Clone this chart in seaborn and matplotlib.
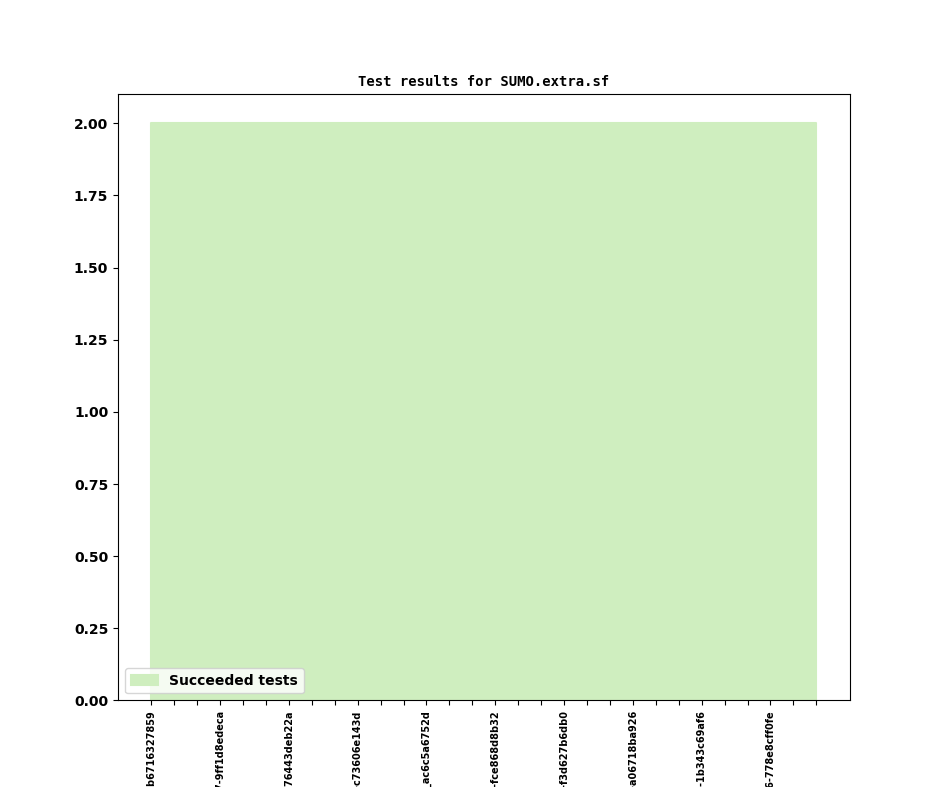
import numpy as np
import pandas as pd
import seaborn as sns
import matplotlib
matplotlib.use("Agg")
import matplotlib.pyplot as plt

# 30 test runs, labelled by build id (only every third label shown)
runs = [
    "2021-03-01-b6716327859", "2021-03-02-0b1f3a9c2d4", "2021-03-03-5c8e2a7d1f0",
    "2021-03-04-7-9ff1d8edeca", "2021-03-05-3d2a6e8f1b9", "2021-03-06-e4c7b2a915d",
    "2021-03-07-76443deb22a", "2021-03-08-a9d3e5f7c21", "2021-03-09-1f6b8c2e4a7",
    "2021-03-10-c73606e143d", "2021-03-11-2e9a4f6b8d1", "2021-03-12-8b5d1c3e7f2",
    "2021-03-13_ac6c5a6752d", "2021-03-14-4a7e9c1d3b5", "2021-03-15-d2f8b6a4e19",
    "2021-03-16-fce868d8b32", "2021-03-17-6c1e3a5f7d9", "2021-03-18-9e4b2d8a6c3",
    "2021-03-19-f3d627b6db0", "2021-03-20-3b7f5e1c9a2", "2021-03-21-b8a2d4f6e13",
    "2021-03-22-a06718ba926", "2021-03-23-5e3c7a9b1d4", "2021-03-24-c1f9e7d5b38",
    "2021-03-25-1b343c69af6", "2021-03-26-7d5a3c1e9f2", "2021-03-27-e6b4f2a8c05",
    "2021-03-28-6-778e8cff0fe", "2021-03-29-2c8e6a4d1b7", "2021-03-30-9a1d7f3e5c6",
]
succeeded = [2] * 30

df = pd.DataFrame({"run": runs, "succeeded": succeeded})

fig, ax = plt.subplots(figsize=(9.44, 7.87), dpi=100)
green = "#cfeebf"
x = np.arange(len(df))
ax.stackplot(x, df["succeeded"], colors=[green], labels=["Succeeded tests"],
             edgecolor=green, linewidth=1.5)

ax.set_xticks(x)
ax.set_xticklabels([r if i % 3 == 0 else "" for i, r in enumerate(df["run"])],
                   rotation=90, fontsize=7, fontweight="bold")
for lbl in ax.get_yticklabels():
    lbl.set_fontweight("bold")
ax.set_title("Test results for SUMO.extra.sf", family="monospace",
             fontweight="bold", fontsize=10)
ax.legend(loc="lower left", prop={"weight": "bold"})

fig.savefig("out.png", dpi=100)
